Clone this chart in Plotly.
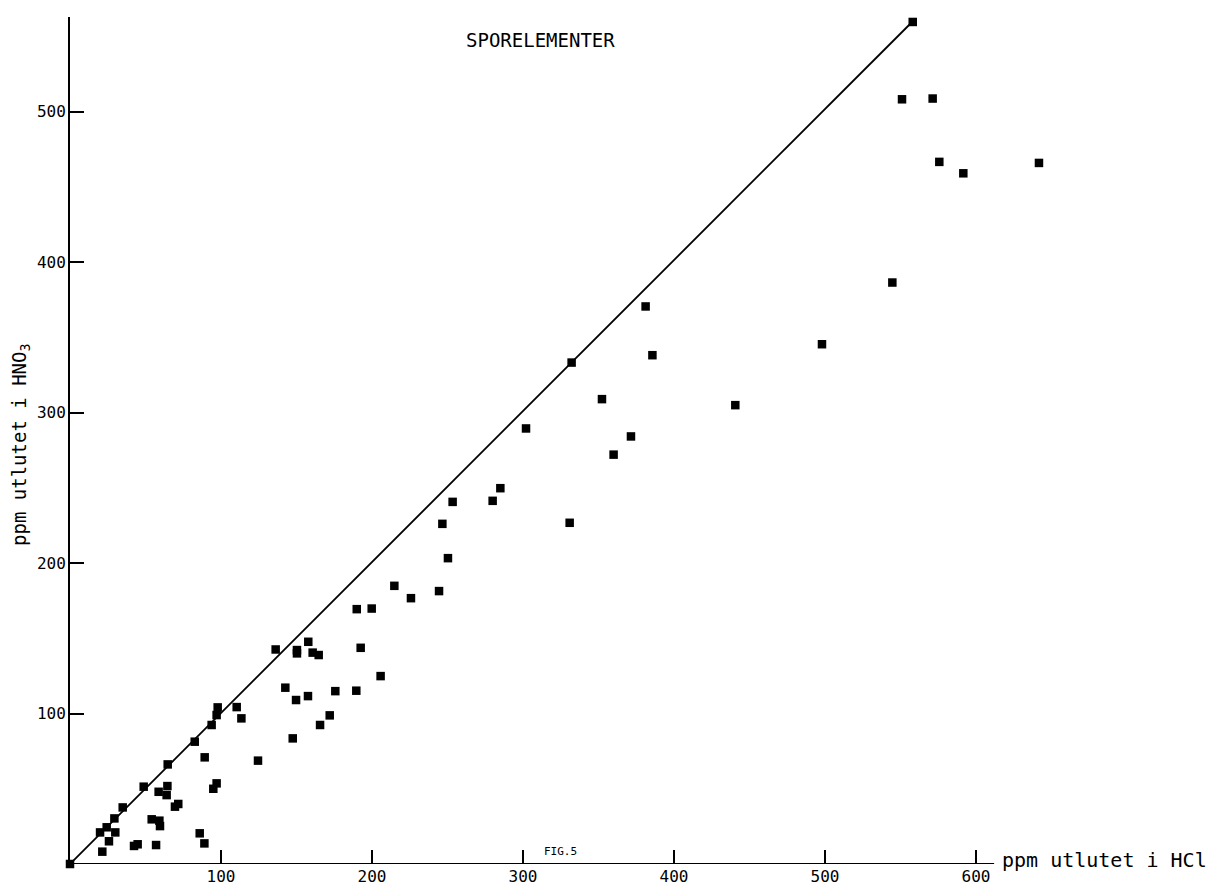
import plotly.graph_objects as go

# Data: ppm leached in HCl (x) vs ppm leached in HNO3 (y)
hcl = [0, 19.9, 24.3, 21.4, 25.8, 30.0, 29.4, 34.9, 42.4, 44.8, 48.8, 54.1, 57.0, 58.7,
       59.2, 59.6, 64.5, 64.0, 64.7, 69.5, 71.7, 82.6, 85.9, 89.0, 89.2, 93.8, 94.9,
       97.1, 97.1, 97.8, 110.4, 113.5, 124.5, 136.2, 142.6, 147.5, 149.7, 150.3, 150.3,
       157.8, 157.6, 160.7, 164.7, 165.6, 172.0, 175.7, 189.6, 189.9, 192.5, 199.8,
       205.7, 214.8, 225.8, 244.4, 246.6, 250.3, 253.4, 279.9, 285.0, 302.0, 330.9,
       332.2, 352.3, 360.0, 371.5, 381.2, 385.7, 440.6, 498.0, 544.6, 551.0, 571.3,
       575.7, 591.6, 641.7, 558.1]
hno3 = [0, 21.0, 24.4, 8.2, 15.1, 21.0, 30.3, 37.6, 12.0, 13.1, 51.4, 29.7, 12.6, 48.0,
        28.8, 25.2, 51.8, 45.8, 66.2, 38.1, 39.9, 81.3, 20.4, 13.7, 70.9, 92.4, 50.0,
        53.6, 99.0, 104.1, 104.3, 96.8, 68.7, 142.6, 117.2, 83.5, 109.0, 142.2, 140.0,
        147.7, 111.6, 140.5, 138.9, 92.4, 98.8, 114.9, 115.2, 169.4, 143.7, 169.8,
        124.9, 184.9, 176.7, 181.4, 226.1, 203.3, 240.7, 241.4, 249.8, 289.5, 226.8,
        333.3, 309.0, 272.1, 284.2, 370.6, 338.2, 305.0, 345.5, 386.5, 508.3, 508.8,
        466.7, 459.1, 466.0, 559.7]

line_x = [0, 558]
line_y = [0, 560]
x_ticks = [100, 200, 300, 400, 500, 600]
y_ticks = [100, 200, 300, 400, 500]
x_axis_end = 612

FONT = "DejaVu Sans Mono, monospace"

fig = go.Figure()
fig.add_trace(go.Scatter(x=line_x, y=line_y, mode="lines",
                         line=dict(color="black", width=1.8), hoverinfo="skip",
                         showlegend=False))
fig.add_trace(go.Scatter(x=hcl, y=hno3, mode="markers",
                         marker=dict(symbol="square", size=8.5, color="black",
                                     line=dict(width=0)),
                         cliponaxis=False, showlegend=False))

fig.add_shape(type="line", xref="x", yref="y", x0=0, y0=0, x1=x_axis_end, y1=0,
              line=dict(color="black", width=2))

L, R, T, B = 70, 6, 17, 24
W, H = 1216, 888
pw = W - L - R
ph = H - T - B


def px(xp):
    return (xp - L) / pw


def py(yp):
    return (H - B - yp) / ph


fig.update_layout(
    template="none",
    width=W, height=H,
    margin=dict(l=L, r=R, t=T, b=B, autoexpand=False),
    paper_bgcolor="white", plot_bgcolor="white",
    font=dict(family=FONT, color="black", size=16),
    xaxis=dict(range=[0, pw / 1.51], tickvals=x_ticks, ticks="inside", ticklen=14,
               tickwidth=1.5, tickcolor="black", showgrid=False, zeroline=False,
               showline=False, automargin=False, tickfont=dict(size=16),
               ticklabelstandoff=1),
    yaxis=dict(range=[0, 563], tickvals=y_ticks, ticks="inside", ticklen=14,
               tickwidth=1.5, tickcolor="black", showgrid=False, zeroline=False,
               showline=True, linecolor="black", linewidth=2, automargin=False,
               tickfont=dict(size=16), ticklabelstandoff=-1),
    annotations=[
        dict(text="SPORELEMENTER", xref="paper", yref="paper", x=px(540), y=py(40),
             xanchor="center", yanchor="middle", showarrow=False,
             font=dict(size=19)),
        dict(text="ppm utlutet i HCl", xref="paper", yref="paper", x=px(1000), y=py(860),
             xanchor="left", yanchor="middle", showarrow=False,
             font=dict(size=20)),
        dict(text="ppm utlutet i HNO<sub>3</sub>", xref="paper", yref="paper",
             x=px(20), y=py(445), xanchor="center", yanchor="middle",
             textangle=-90, showarrow=False, font=dict(size=19)),
        dict(text="FIG.5", xref="paper", yref="paper", x=px(560), y=py(851),
             xanchor="center", yanchor="middle", showarrow=False,
             font=dict(size=11)),
    ],
)

fig.write_html("out.html")
